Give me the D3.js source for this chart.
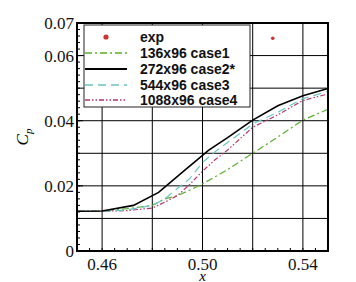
<!DOCTYPE html>
<html>
<head>
<meta charset="utf-8">
<script src="https://cdn.jsdelivr.net/npm/d3@7"></script>
<style>
  body { margin: 0; background: #fff; }
  .tick-label { font-family: "Liberation Serif", serif; font-size: 17px; fill: #111; }
  .legend-text { font-family: "Liberation Sans", Arial, sans-serif; font-size: 14px; font-weight: bold; fill: #111; }
</style>
</head>
<body>
<div id="chart"></div>
<script>
// data
var xTicks = [0.46, 0.50, 0.54];
var yTicks = [0, 0.02, 0.04, 0.06, 0.07];
var xGrid = [0.46, 0.48, 0.50, 0.52, 0.54];
var yGrid = [0.01, 0.02, 0.03, 0.04, 0.05, 0.06];

var expX = [0.528];
var expY = [0.0653];

var case1X = [0.45, 0.46, 0.47, 0.48, 0.485, 0.49, 0.495, 0.50, 0.51, 0.52, 0.53, 0.54, 0.55];
var case1Y = [0.0122, 0.0123, 0.0130, 0.0140, 0.0160, 0.0170, 0.0187, 0.0206, 0.0250, 0.0300, 0.0350, 0.0402, 0.0435];

var case2X = [0.45, 0.46, 0.4725, 0.4825, 0.4925, 0.5025, 0.51, 0.52, 0.53, 0.54, 0.55];
var case2Y = [0.0122, 0.0123, 0.0140, 0.0180, 0.0245, 0.0310, 0.0348, 0.0402, 0.0446, 0.0477, 0.0499];

var case3X = [0.45, 0.46, 0.47, 0.48, 0.485, 0.49, 0.495, 0.50, 0.505, 0.51, 0.52, 0.53, 0.54, 0.55];
var case3Y = [0.0122, 0.0122, 0.0126, 0.0140, 0.0160, 0.0192, 0.0223, 0.0272, 0.0305, 0.0333, 0.0390, 0.0426, 0.0468, 0.0490];

var case4X = [0.45, 0.46, 0.47, 0.48, 0.485, 0.49, 0.495, 0.50, 0.505, 0.51, 0.52, 0.53, 0.54, 0.55];
var case4Y = [0.0122, 0.0122, 0.0124, 0.0132, 0.0150, 0.0170, 0.0205, 0.0245, 0.0280, 0.0310, 0.0380, 0.0418, 0.0462, 0.0482];

var seriesNames = ["136x96 case1", "272x96 case2*", "544x96 case3", "1088x96 case4"];
var seriesColors = ["#5cae2e", "#000000", "#6cc4c4", "#b3366f"];
var seriesDash = ["7,3,2,3", null, "8,5", "5,2,1.5,2,1.5,2"];
var seriesWidth = [1.2, 1.6, 1.2, 1.2];

var width = 356, height = 282;
var margin = {top: 23, right: 28, bottom: 31, left: 77};

var svg = d3.select("#chart").append("svg")
    .attr("width", width)
    .attr("height", height);

var x = d3.scaleLinear().domain([0.45, 0.55]).range([margin.left, width - margin.right]);
var y = d3.scaleLinear().domain([0, 0.07]).range([height - margin.bottom, margin.top]);

// grid
svg.append("g").selectAll("line").data(xGrid).enter().append("line")
    .attr("x1", function (d) { return x(d); }).attr("x2", function (d) { return x(d); })
    .attr("y1", y(0)).attr("y2", y(0.07))
    .attr("stroke", "#000").attr("stroke-width", 1);
svg.append("g").selectAll("line").data(yGrid).enter().append("line")
    .attr("y1", function (d) { return y(d); }).attr("y2", function (d) { return y(d); })
    .attr("x1", x(0.45)).attr("x2", x(0.55))
    .attr("stroke", "#000").attr("stroke-width", 1);

// minor ticks
var xMinor = d3.range(0.45, 0.5501, 0.005);
var yMinor = d3.range(0, 0.0701, 0.002);
svg.append("g").selectAll("line").data(xMinor).enter().append("line")
    .attr("x1", function (d) { return x(d); }).attr("x2", function (d) { return x(d); })
    .attr("y1", y(0)).attr("y2", y(0) - 3)
    .attr("stroke", "#000");
svg.append("g").selectAll("line").data(yMinor).enter().append("line")
    .attr("y1", function (d) { return y(d); }).attr("y2", function (d) { return y(d); })
    .attr("x1", x(0.45)).attr("x2", x(0.45) + 3)
    .attr("stroke", "#000");
svg.append("g").selectAll("line").data(yTicks).enter().append("line")
    .attr("y1", function (d) { return y(d); }).attr("y2", function (d) { return y(d); })
    .attr("x1", x(0.45)).attr("x2", x(0.45) + 6)
    .attr("stroke", "#000");

// curves
var line = d3.line()
    .x(function (d) { return x(d[0]); })
    .y(function (d) { return y(d[1]); });
var xs = [case1X, case2X, case3X, case4X];
var ys = [case1Y, case2Y, case3Y, case4Y];
var order = [0, 3, 2, 1];
order.forEach(function (i) {
    var pts = d3.zip(xs[i], ys[i]);
    svg.append("path")
        .datum(pts)
        .attr("d", line)
        .attr("fill", "none")
        .attr("stroke", seriesColors[i])
        .attr("stroke-width", seriesWidth[i])
        .attr("stroke-dasharray", seriesDash[i]);
});

// experiment points
svg.append("g").selectAll("circle").data(d3.zip(expX, expY)).enter().append("circle")
    .attr("cx", function (d) { return x(d[0]); })
    .attr("cy", function (d) { return y(d[1]); })
    .attr("r", 1.8)
    .attr("fill", "#cc3333");

// legend
var lg = svg.append("g").attr("transform", "translate(84,25)");
lg.append("rect").attr("width", 166).attr("height", 82)
    .attr("fill", "#fff").attr("stroke", "#222").attr("stroke-width", 1);
var rowY = [12, 28, 44, 60, 75];
lg.append("circle").attr("cx", 22).attr("cy", rowY[0]).attr("r", 2.6).attr("fill", "#cc3333");
lg.append("text").attr("class", "legend-text").attr("x", 56).attr("y", rowY[0] + 5).text("exp");
seriesNames.forEach(function (name, i) {
    lg.append("line")
        .attr("x1", 1).attr("x2", 43)
        .attr("y1", rowY[i + 1]).attr("y2", rowY[i + 1])
        .attr("stroke", seriesColors[i])
        .attr("stroke-width", i === 1 ? 2 : 1.6)
        .attr("stroke-dasharray", seriesDash[i]);
    lg.append("text").attr("class", "legend-text")
        .attr("x", 56).attr("y", rowY[i + 1] + 5).text(name);
});

// frame
svg.append("rect")
    .attr("x", x(0.45)).attr("y", y(0.07))
    .attr("width", x(0.55) - x(0.45)).attr("height", y(0) - y(0.07))
    .attr("fill", "none").attr("stroke", "#000").attr("stroke-width", 2);

// tick labels
svg.append("g").selectAll("text").data(xTicks).enter().append("text")
    .attr("class", "tick-label")
    .attr("x", function (d) { return x(d); })
    .attr("y", y(0) + 19)
    .attr("text-anchor", "middle")
    .text(function (d) { return d3.format(".2f")(d); });
svg.append("g").selectAll("text").data(yTicks).enter().append("text")
    .attr("class", "tick-label")
    .attr("x", x(0.45) - 3)
    .attr("y", function (d) { return y(d) + 6; })
    .attr("text-anchor", "end")
    .text(function (d) { return d === 0 ? "0" : d3.format(".2f")(d); });

// axis titles
svg.append("text")
    .attr("x", x(0.50)).attr("y", 281)
    .attr("text-anchor", "middle")
    .attr("font-family", "Liberation Serif, serif")
    .attr("font-style", "italic")
    .attr("font-size", 15)
    .text("x");
var yl = svg.append("text")
    .attr("transform", "translate(28,137) rotate(-90)")
    .attr("text-anchor", "middle")
    .attr("font-family", "Liberation Serif, serif")
    .attr("font-style", "italic")
    .attr("font-size", 17);
yl.append("tspan").text("C");
yl.append("tspan").attr("font-size", 11).attr("dy", 4).text("p");
</script>
</body>
</html>
